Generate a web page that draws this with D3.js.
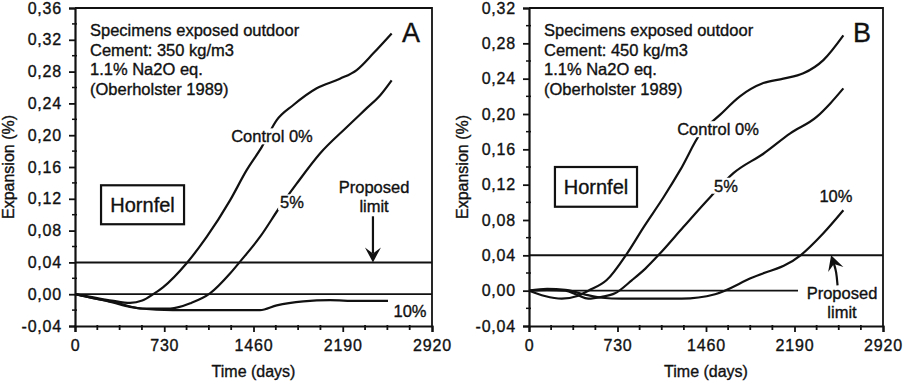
<!DOCTYPE html>
<html>
<head>
<meta charset="utf-8">
<script src="https://cdn.jsdelivr.net/npm/d3@7"></script>
<style>
  body { margin: 0; background: #fff; }
  svg { display: block; }
  text { font-family: Arial, 'Liberation Sans', sans-serif; fill: #111; stroke: #111; stroke-width: 0.35px; }
</style>
</head>
<body>
<svg width="913" height="386"></svg>
<script>
'use strict'

// days
const xTicks = [0, 730, 1460, 2190, 2920]
const yTicksA = [-0.04, 0, 0.04, 0.08, 0.12, 0.16, 0.2, 0.24, 0.28, 0.32, 0.36]
const yTicksB = [-0.04, 0, 0.04, 0.08, 0.12, 0.16, 0.2, 0.24, 0.28, 0.32]
const limit = 0.04

// panel A, cement 350 kg/m3  [days, expansion %]
const controlA = [[0, 0], [150, -0.004], [300, -0.008], [450, -0.011], [550, -0.008], [640, 0], [722, 0.009],
  [913, 0.039], [1077, 0.072], [1268, 0.118], [1404, 0.156], [1527, 0.185], [1650, 0.219], [1786, 0.238],
  [1977, 0.259], [2167, 0.271], [2304, 0.282], [2440, 0.303], [2590, 0.328]]
const pct5A = [[0, 0], [150, -0.005], [300, -0.01], [450, -0.016], [550, -0.018], [780, -0.018], [950, -0.011],
  [1104, 0.001], [1268, 0.026], [1350, 0.041], [1513, 0.072], [1677, 0.11], [1813, 0.139], [2004, 0.177],
  [2222, 0.21], [2386, 0.234], [2495, 0.25], [2590, 0.269]]
const pct10A = [[0, 0], [150, -0.005], [314, -0.0097], [532, -0.018], [800, -0.02], [1268, -0.02], [1513, -0.02],
  [1650, -0.014], [1868, -0.009], [2086, -0.0075], [2304, -0.0085], [2560, -0.0085]]

// panel B, cement 450 kg/m3
const controlB = [[0, 0], [130, -0.006], [270, -0.009], [400, -0.006], [490, 0], [641, 0.012], [808, 0.042],
  [946, 0.072], [1111, 0.106], [1249, 0.137], [1414, 0.178], [1575, 0.199], [1740, 0.22], [1933, 0.235],
  [2098, 0.24], [2263, 0.246], [2428, 0.261], [2593, 0.289]]
const pct5B = [[0, 0], [150, 0.001], [300, 0], [400, -0.005], [489, -0.009], [600, -0.007], [709, -0.003],
  [850, 0.012], [960, 0.025], [1080, 0.042], [1273, 0.072], [1496, 0.106], [1686, 0.133], [1933, 0.155],
  [2155, 0.178], [2375, 0.197], [2485, 0.212], [2593, 0.229]]
const pct10B = [[0, 0], [150, 0.002], [300, 0.001], [450, -0.004], [600, -0.008], [765, -0.009], [1260, -0.009],
  [1535, -0.004], [1827, 0.014], [2240, 0.04], [2428, 0.065], [2593, 0.091]]

const notesA = ['Specimens exposed outdoor', 'Cement: 350 kg/m3', '1.1% Na2O eq.', '(Oberholster 1989)']
const notesB = ['Specimens exposed outdoor', 'Cement: 450 kg/m3', '1.1% Na2O eq.', '(Oberholster 1989)']

const svg = d3.select('svg')

const panels = [
  {
    id: 'A', left: 75, right: 432, yMax: 0.36, yTicks: yTicksA, notes: notesA, zeroEnd: 2920,
    series: [
      { data: controlA, label: 'Control 0%', at: [1611, 0.191] },
      { data: pct5A, label: '5%', at: [1775, 0.108] },
      { data: pct10A, label: '10%', at: [2740, -0.029] }
    ],
    box: [213, 892, 0.137, 0.088],
    proposed: [2446, 0.127, 0.104],
    arrow: [[2437, 0.098], [2437, 0.04]]
  },
  {
    id: 'B', left: 529, right: 883, yMax: 0.32, yTicks: yTicksB, notes: notesB, zeroEnd: 2219,
    series: [
      { data: controlB, label: 'Control 0%', at: [1559, 0.176] },
      { data: pct5B, label: '5%', at: [1625, 0.112] },
      { data: pct10B, label: '10%', at: [2532, 0.1] }
    ],
    box: [214, 891, 0.14, 0.095],
    proposed: [2582, -0.0095, -0.031],
    arrow: [[2545, 0.006], [2535, 0.022], [2492, 0.04]]
  }
]

const plotTop = 8, plotBottom = 326

panels.forEach(p => {
  const x = d3.scaleLinear().domain([0, 2920]).range([p.left, p.right])
  const y = d3.scaleLinear().domain([-0.04, p.yMax]).range([plotBottom, plotTop])
  const g = svg.append('g')

  // top and right frame
  g.append('path')
    .attr('d', `M${p.left},${plotTop}H${p.right}V${plotBottom}`)
    .attr('fill', 'none').attr('stroke', '#111').attr('stroke-width', 1.8)

  // reference lines
  g.append('line')
    .attr('x1', x(0)).attr('x2', x(2920)).attr('y1', y(limit)).attr('y2', y(limit))
    .attr('stroke', '#111').attr('stroke-width', 2)
  g.append('line')
    .attr('x1', x(0)).attr('x2', x(p.zeroEnd)).attr('y1', y(0)).attr('y2', y(0))
    .attr('stroke', '#111').attr('stroke-width', 1.7)

  // axes
  const yAxis = g.append('g')
    .attr('transform', `translate(${p.left},0)`)
    .call(d3.axisLeft(y).tickValues(p.yTicks).tickSize(6).tickPadding(7)
      .tickFormat(d => d3.format('.2f')(d).replace('.', ',').replace('\u2212', '-')))
  const minorY = d3.range(-0.02, p.yMax, 0.04)
  yAxis.selectAll('.minor').data(minorY).enter().append('line')
    .attr('x1', -3).attr('x2', 2).attr('y1', d => y(d)).attr('y2', d => y(d))
    .attr('stroke', '#111').attr('stroke-width', 1.5)

  const xAxis = g.append('g')
    .attr('transform', `translate(0,${plotBottom})`)
    .call(d3.axisBottom(x).tickValues(xTicks).tickSize(6).tickPadding(8).tickFormat(d3.format('d')))
  const minorX = d3.range(182.5, 2920, 182.5).filter(d => d % 730 !== 0)
  xAxis.selectAll('.minor').data(minorX).enter().append('line')
    .attr('x1', d => x(d)).attr('x2', d => x(d)).attr('y1', -1).attr('y2', 4)
    .attr('stroke', '#111').attr('stroke-width', 1.8)

  g.selectAll('.domain').attr('stroke', '#111').attr('stroke-width', 2.2)
  g.selectAll('.tick line').attr('stroke', '#111').attr('stroke-width', 1.8)
  g.selectAll('.tick text')
    .attr('font-size', 16).attr('fill', '#111').attr('letter-spacing', 0.8)
    .attr('font-family', 'Arial, "Liberation Sans", sans-serif')

  g.append('text')
    .attr('x', (p.left + p.right) / 2).attr('y', 377)
    .attr('text-anchor', 'middle').attr('font-size', 16)
    .text('Time (days)')
  g.append('text')
    .attr('transform', `translate(${p.left - 61},${(plotTop + plotBottom) / 2}) rotate(-90)`)
    .attr('text-anchor', 'middle').attr('font-size', 16)
    .text('Expansion (%)')

  // curves
  const line = d3.line()
    .x(d => x(d[0])).y(d => y(d[1]))
    .curve(d3.curveMonotoneX)
  p.series.forEach(s => {
    g.append('path').datum(s.data)
      .attr('d', line)
      .attr('fill', 'none').attr('stroke', '#111').attr('stroke-width', 2.2)
  })

  // curve labels on white so they cut the lines
  const labelled = (tx, ty, str, size) => {
    const bg = g.append('rect').attr('fill', '#fff')
    const t = g.append('text')
      .attr('x', tx).attr('y', ty)
      .attr('text-anchor', 'middle').attr('font-size', size)
      .text(str)
    const bb = t.node().getBBox()
    bg.attr('x', bb.x - 2).attr('y', bb.y + 1).attr('width', bb.width + 4).attr('height', bb.height - 2)
    return t
  }
  p.series.forEach(s => labelled(x(s.at[0]), y(s.at[1]), s.label, 16.5))

  labelled(x(p.proposed[0]), y(p.proposed[1]), 'Proposed', 16.5)
  labelled(x(p.proposed[0]), y(p.proposed[2]), 'limit', 16.5)

  // arrow
  const ar = p.arrow.map(d => [x(d[0]), y(d[1])])
  const tip = ar[ar.length - 1]
  const prev = ar[ar.length - 2]
  const ang = Math.atan2(tip[1] - prev[1], tip[0] - prev[0])
  const headLen = 15, headW = 8
  const ux = Math.cos(ang), uy = Math.sin(ang)
  const base = [tip[0] - ux * headLen, tip[1] - uy * headLen]
  const notch = [tip[0] - ux * headLen * 0.6, tip[1] - uy * headLen * 0.6]
  g.append('path')
    .attr('d', d3.line().curve(d3.curveBasis)(ar.slice(0, -1).concat([notch])))
    .attr('fill', 'none').attr('stroke', '#111').attr('stroke-width', 2.2)
  g.append('path')
    .attr('d', `M${tip[0]},${tip[1]}L${base[0] - uy * headW},${base[1] + ux * headW}` +
      `L${notch[0]},${notch[1]}L${base[0] + uy * headW},${base[1] - ux * headW}Z`)
    .attr('fill', '#111')

  // Hornfel box
  const [bx0, bx1, by0, by1] = p.box
  g.append('rect')
    .attr('x', x(bx0)).attr('y', y(by0))
    .attr('width', x(bx1) - x(bx0)).attr('height', y(by1) - y(by0))
    .attr('fill', '#fff').attr('stroke', '#111').attr('stroke-width', 2.2)
  g.append('text')
    .attr('x', (x(bx0) + x(bx1)) / 2).attr('y', (y(by0) + y(by1)) / 2 + 7)
    .attr('text-anchor', 'middle').attr('font-size', 20)
    .text('Hornfel')

  // notes
  g.append('g').selectAll('text').data(p.notes).enter().append('text')
    .attr('x', p.left + 15).attr('y', (d, i) => plotTop + 28 + i * 19.7)
    .attr('font-size', 16.5)
    .text(d => d)

  g.append('text')
    .attr('x', p.right - 12).attr('y', plotTop + 34)
    .attr('text-anchor', 'end').attr('font-size', 27)
    .text(p.id)
})
</script>
</body>
</html>
